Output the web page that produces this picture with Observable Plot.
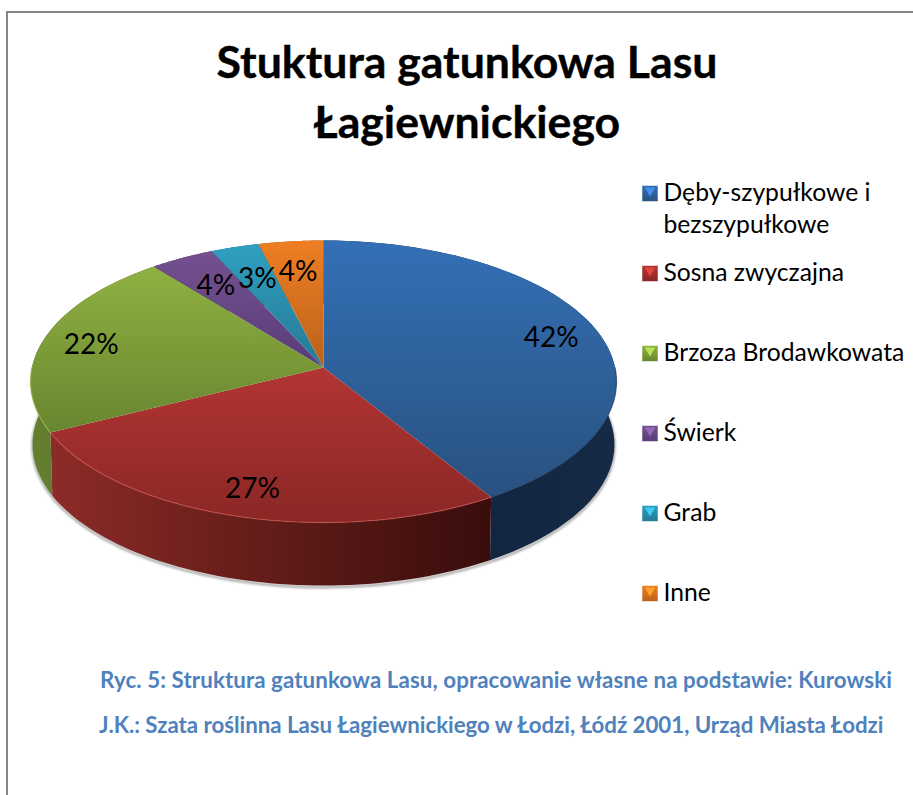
<!DOCTYPE html>
<html lang="pl">
<head>
<meta charset="utf-8">
<script src="https://cdn.jsdelivr.net/npm/d3@7"></script>
<script src="https://cdn.jsdelivr.net/npm/@observablehq/plot@0.6"></script>
<style>
html,body{margin:0;padding:0;background:#fff;overflow:hidden}
#page{position:relative;width:913px;height:795px;overflow:hidden;font-family:Lato,sans-serif}
#frameTop{position:absolute;left:6px;top:11px;width:907px;height:2px;background:#868686}
#frameLeft{position:absolute;left:6px;top:11px;width:2px;height:784px;background:#868686}
#title{position:absolute;left:167px;top:31px;width:600px;text-align:center;font-weight:700;font-size:44.6px;line-height:60px;color:#000;white-space:nowrap;-webkit-text-stroke:0.4px #000}
.cap{position:absolute;left:100px;font-weight:700;font-size:22.3px;line-height:26px;color:#4f81bd;white-space:nowrap}
#pie{position:absolute;left:0;top:210px}
#legend{position:absolute;left:630px;top:170px}
</style>
</head>
<body>
<div id="page">
  <div id="frameTop"></div><div id="frameLeft"></div>
  <div id="title">Stuktura gatunkowa Lasu<br>Łagiewnickiego</div>
  <div id="pie"></div>
  <div id="legend"></div>
  <div class="cap" style="top:667px;letter-spacing:0.09px">Ryc. 5: Struktura gatunkowa Lasu, opracowanie własne na podstawie: Kurowski</div>
  <div class="cap" style="top:712px;left:99px;letter-spacing:-0.03px">J.K.: Szata roślinna Lasu Łagiewnickiego w Łodzi, Łódź 2001, Urząd Miasta Łodzi</div>
</div>
<script>
const categories = ["Dęby-szypułkowe i\nbezszypułkowe","Sosna zwyczajna","Brzoza Brodawkowata","Świerk","Grab","Inne"];
const values = [42,27,22,4,3,4];
const labels = ["42%","27%","22%","4%","3%","4%"];
const labelRadius = [0.83,0.82,0.83,0.745,0.73,0.76];
const topLight = ["#3470b6","#b23533","#8fb143","#74518f","#309fc0","#ef7f23"];
const topDark  = ["#28517f","#8a2725","#68862f","#583c78","#247a94","#b9611a"];
const wallLeft  = ["#0f2038","#8c2b27","#647f2e","#3f2a55","#1a5568","#8a4a14"];
const wallRight = ["#152a46","#380d0b","#566f27","#3f2a55","#1a5568","#8a4a14"];
const rimColor  = ["#1e3f66","#c9514d","#9cbc52","#7a5a9a","#3ba6c6","#f08a35"];

const tilt = -0.0993;   // perspective of the pie plane
const depth = 0.447;    // thickness of the pie, in units of the y scale
const total = d3.sum(values);
const cum = d3.cumsum(values);
const ang = f => f * 2 * Math.PI;
function project(r, a, drop = 0) {
  const u = r * Math.sin(a), v = -r * Math.cos(a), d = 1 + tilt * v;
  return {x: Math.sqrt(1 - tilt * tilt) * u / d * (drop ? 0.993 : 1), y: (tilt + v) / d + drop};
}
const arc = (a0, a1, drop = 0) => d3.range(0, 61).map(i => project(1, a0 + (a1 - a0) * i / 60, drop));
const slices = values.map((v, i) => ({i, a0: ang((cum[i] - v) / total), a1: ang(cum[i] / total)}));

function gradient(id, dir, c0, c1) {
  const ns = "http://www.w3.org/2000/svg";
  const g = document.createElementNS(ns, "linearGradient");
  g.setAttribute("id", id);
  g.setAttribute("x1", 0); g.setAttribute("y1", 0);
  g.setAttribute("x2", dir === "h" ? 1 : 0); g.setAttribute("y2", dir === "h" ? 0 : 1);
  [[0, c0], [1, c1]].forEach(([o, c]) => {
    const s = document.createElementNS(ns, "stop");
    s.setAttribute("offset", o); s.setAttribute("stop-color", c);
    g.appendChild(s);
  });
  return g;
}
const defs = () => {
  const d = document.createElementNS("http://www.w3.org/2000/svg", "defs");
  slices.forEach(({i}) => {
    d.appendChild(gradient("top" + i, "v", topLight[i], topDark[i]));
    d.appendChild(gradient("wall" + i, "h", wallLeft[i], wallRight[i]));
    d.appendChild(gradient("key" + i, "v", topLight[i], topDark[i]));
  });
  return d;
};

const wallOrder = [3, 4, 5, 2, 0, 1];
const wallMarks = wallOrder.map(i => {
  const {a0, a1} = slices[i];
  return Plot.line([...arc(a0, a1), ...arc(a0, a1, depth).reverse()],
    {x: "x", y: "y", fill: `url(#wall${i})`, stroke: "none"});
});
const shadow = Plot.line(arc(ang(0.2), ang(0.82), depth + 0.012),
  {x: "x", y: "y", stroke: "#8a8a8a", strokeWidth: 2.5, strokeOpacity: 0.75, imageFilter: "blur(1.2px)"});
const topMarks = slices.map(({i, a0, a1}) =>
  Plot.line([project(0, 0), ...arc(a0, a1)],
    {x: "x", y: "y", fill: `url(#top${i})`, stroke: "none"}));
const front0 = ang(0.25), front1 = ang(0.75);
const rimMarks = slices
  .filter(({a0, a1}) => a1 > front0 && a0 < front1)
  .map(({i, a0, a1}) =>
    Plot.line(arc(Math.max(a0, front0), Math.min(a1, front1)),
      {x: "x", y: "y", stroke: rimColor[i], strokeWidth: 1.3, strokeOpacity: 0.6, imageFilter: "blur(0.4px)"}));
const labelData = slices.map(({i, a0, a1}) => ({...project(labelRadius[i], (a0 + a1) / 2), text: labels[i]}));

const pie = Plot.plot({
  width: 640, height: 400, margin: 0,
  x: {domain: [-1, 1], range: [30, 616], axis: null},
  y: {domain: [-1, 1], range: [30, 312], axis: null},
  marks: [
    defs, shadow, ...wallMarks, ...topMarks, ...rimMarks,
    Plot.text(labelData, {x: "x", y: "y", text: "text", dy: 2, fontSize: 28, fill: "#000", fontFamily: "Lato, sans-serif"})
  ]
});
document.getElementById("pie").appendChild(pie);

const keyNames = categories.map(c => c.split("\n")[0]);
const legend = Plot.plot({
  width: 283, height: 450, margin: 0,
  x: {axis: null, domain: [0, 1], range: [19.5, 283]},
  y: {type: "point", domain: keyNames, range: [22, 424], padding: 0, axis: null},
  marks: [
    defs,
    ...keyNames.map((n, i) => Plot.dot([n], {x: () => 0, y: d => d, symbol: "square", r: 9, fill: `url(#key${i})`, stroke: "#ffffff", strokeWidth: 0.5})),
    ...keyNames.map((n, i) => Plot.dot([n], {x: () => 0, y: d => d, symbol: "triangle", rotate: 180, r: 3.9, dy: -3, fill: d3.color(topLight[i]).brighter(0.7).formatHex(), stroke: "none"})),
    Plot.text(keyNames, {x: () => 0, y: d => d, dx: 13.5, text: (d, i) => categories[i], textAnchor: "start", lineAnchor: "top", dy: -15, lineHeight: 1.3, fontSize: 24.7, fill: "#000", fontFamily: "Lato, sans-serif"})
  ]
});
document.getElementById("legend").appendChild(legend);
</script>
</body>
</html>
